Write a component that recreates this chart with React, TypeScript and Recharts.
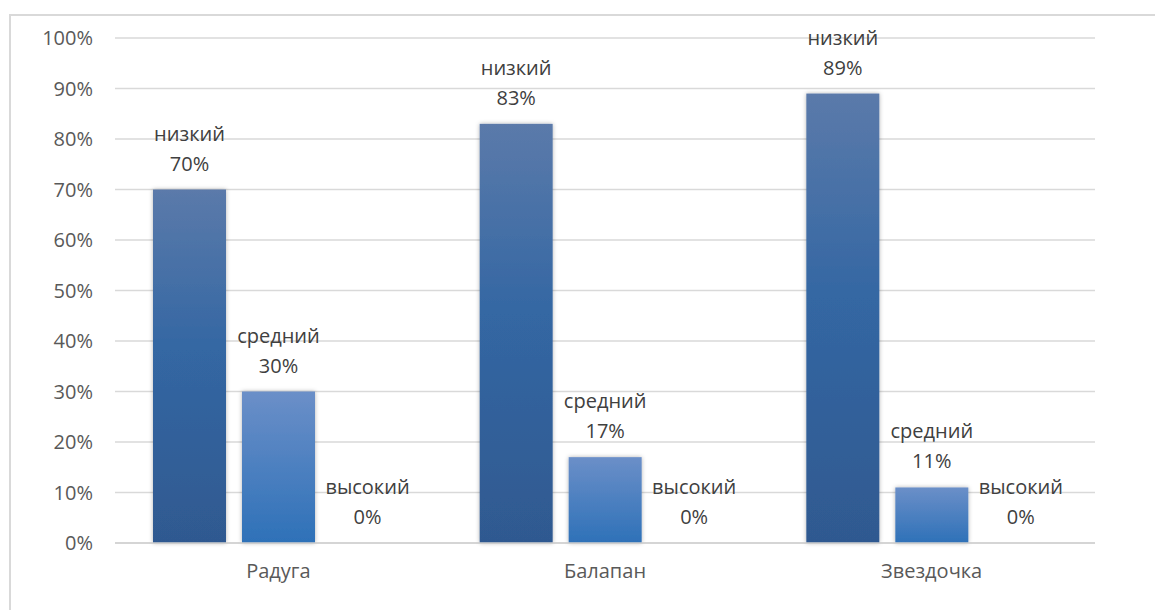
import React from 'react';
import { Bar, BarChart, CartesianGrid, LabelList, XAxis, YAxis } from 'recharts';

const categories = ['Радуга', 'Балапан', 'Звездочка'];
const lowValues = [70, 83, 89];
const midValues = [30, 17, 11];
const highValues = [0, 0, 0];
const seriesNames = ['низкий', 'средний', 'высокий'];
const yTicks = [0, 10, 20, 30, 40, 50, 60, 70, 80, 90, 100];

const data = categories.map((name, i) => ({
  name,
  low: lowValues[i],
  mid: midValues[i],
  high: highValues[i],
}));

const FONT = '"Open Sans", sans-serif';

const BarShape = (props: any) => {
  const { x, y, width, height, fill } = props;
  if (!height || height <= 0) return null;
  return <rect x={x} y={y} width={width} height={height} fill={fill} filter="url(#barShadow)" />;
};

const makeLabel = (seriesName: string) => (props: any) => {
  const { x, y, width, value } = props;
  const cx = x + width / 2;
  return (
    <text textAnchor="middle" fontSize={20} fill="#404040" fontFamily={FONT}>
      <tspan x={cx} y={y - 49}>{seriesName}</tspan>
      <tspan x={cx} y={y - 19}>{value}%</tspan>
    </text>
  );
};

const App = () => {
  return (
    <div style={{ position: 'fixed', left: 0, top: 0, width: 1155, height: 610, overflow: 'hidden', background: '#fff' }}>
      <div
        style={{
          position: 'absolute',
          left: 9,
          top: 14,
          width: 1170,
          height: 620,
          border: '2px solid #d9d9d9',
        }}
      />
      <div style={{ position: 'absolute', left: 0, top: 0 }}>
        <BarChart
          width={1155}
          height={610}
          data={data}
          margin={{ top: 38, right: 60, left: 0, bottom: 37 }}
          barSize={73}
          barGap={16}>
          <defs>
            <linearGradient id="gradLow" x1="0" y1="0" x2="0" y2="1">
              <stop offset="0%" stopColor="#5b7aaa" />
              <stop offset="45%" stopColor="#3467a3" />
              <stop offset="100%" stopColor="#2f5990" />
            </linearGradient>
            <linearGradient id="gradMid" x1="0" y1="0" x2="0" y2="1">
              <stop offset="0%" stopColor="#6b8fc8" />
              <stop offset="100%" stopColor="#2e71b8" />
            </linearGradient>
            <filter id="barShadow" x="-20%" y="-20%" width="140%" height="140%">
              <feDropShadow dx="0" dy="0" stdDeviation="2" floodColor="#000" floodOpacity="0.3" />
            </filter>
          </defs>
          <CartesianGrid vertical={false} stroke="#d9d9d9" strokeWidth={1.3} />
          <XAxis
            dataKey="name"
            axisLine={{ stroke: '#d0d0d0', strokeWidth: 1.5 }}
            tickLine={false}
            tickSize={0}
            tickMargin={21}
            tick={{ fontSize: 20, fill: '#595959', fontFamily: FONT }}
          />
          <YAxis
            domain={[0, 100]}
            ticks={yTicks}
            width={115}
            axisLine={false}
            tickLine={false}
            tickSize={0}
            tickMargin={22}
            tickFormatter={(v: number) => `${v}%`}
            tick={{ fontSize: 20, fill: '#595959', fontFamily: FONT }}
          />
          <Bar dataKey="low" fill="url(#gradLow)" shape={BarShape} isAnimationActive={false}>
            <LabelList dataKey="low" content={makeLabel(seriesNames[0])} />
          </Bar>
          <Bar dataKey="mid" fill="url(#gradMid)" shape={BarShape} isAnimationActive={false}>
            <LabelList dataKey="mid" content={makeLabel(seriesNames[1])} />
          </Bar>
          <Bar dataKey="high" fill="#2e71b8" shape={BarShape} isAnimationActive={false}>
            <LabelList dataKey="high" content={makeLabel(seriesNames[2])} />
          </Bar>
        </BarChart>
      </div>
    </div>
  );
};

export default App;
